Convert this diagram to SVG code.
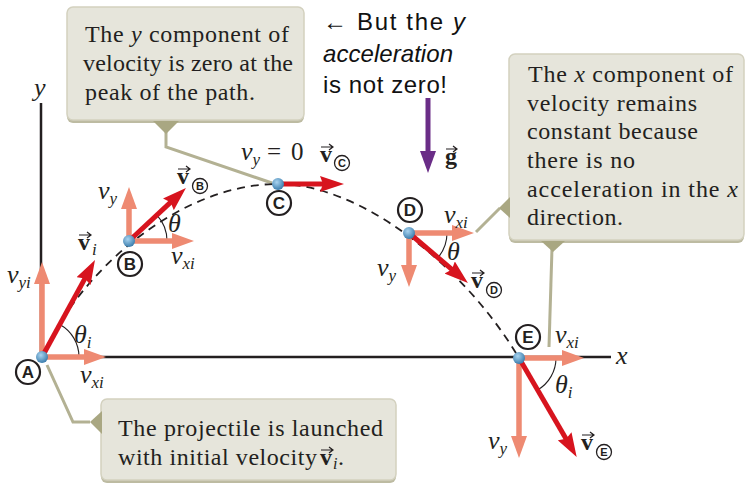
<svg xmlns="http://www.w3.org/2000/svg" width="746" height="485" viewBox="0 0 746 485">
<defs>
<style>
.box{fill:#e6e5db;stroke:#d3d1bf;stroke-width:1.5}
.shadow{fill:#bdbba2}
.ptr{fill:#a9a782}
.lead{fill:none;stroke:#b3b193;stroke-width:3}
.bt{font-family:"Liberation Serif",serif;font-size:24px;fill:#231f20}
.it{font-style:italic}
.sans{font-family:"Liberation Sans",sans-serif;font-size:24px;fill:#111}
.vel{stroke:#d7141e;stroke-width:5;fill:none}
.cmp{stroke:#ee8a72;stroke-width:5.5;fill:none}
.axis{stroke:#231f20;stroke-width:2.5;fill:none}
.traj{fill:none;stroke:#231f20;stroke-width:1.8;stroke-dasharray:8 6}
.arc{fill:none;stroke:#231f20;stroke-width:1.1}
.m{font-family:"Liberation Serif",serif;font-style:italic;font-size:26px;fill:#231f20}
.up{font-family:"Liberation Serif",serif;font-size:25px;fill:#231f20}
.sub{font-size:17px}
.bv{font-family:"Liberation Serif",serif;font-weight:bold;font-size:24px;fill:#231f20}
.acc{fill:none;stroke:#231f20;stroke-width:1.2}
.circ{fill:#fff;stroke:#231f20;stroke-width:2.2}
.csub{fill:none;stroke:#231f20;stroke-width:1.3}
.cl{font-family:"Liberation Sans",sans-serif;font-weight:bold;font-size:17px;text-anchor:middle;fill:#231f20}
.cls{font-family:"Liberation Sans",sans-serif;font-weight:bold;font-size:11px;text-anchor:middle;fill:#231f20}
.ball{fill:url(#bg)}
</style>
<radialGradient id="bg" cx="0.4" cy="0.35" r="0.7">
<stop offset="0" stop-color="#a9d4f0"/>
<stop offset="1" stop-color="#3377a8"/>
</radialGradient>
<marker id="hr" markerUnits="userSpaceOnUse" markerWidth="24" markerHeight="16" viewBox="0 0 24 16" refX="4" refY="8" orient="auto"><path d="M0,0 L24,8 L0,16 L3,8 z" fill="#d7141e"/></marker>
<marker id="hs" markerUnits="userSpaceOnUse" markerWidth="22" markerHeight="16" viewBox="0 0 22 16" refX="2" refY="8" orient="auto"><path d="M0,0 L22,8 L0,16 z" fill="#ee8a72"/></marker>
<marker id="hp" markerUnits="userSpaceOnUse" markerWidth="22" markerHeight="16" viewBox="0 0 22 16" refX="2" refY="8" orient="auto"><path d="M0,0 L22,8 L0,16 z" fill="#6a2d87"/></marker>
</defs>

<g id="connectors">
<path class="lead" d="M166,130 V147 L272,183"/>
<path class="lead" d="M500,208 L476,232"/>
<path class="lead" d="M552,248 L549,347"/>
<path class="lead" d="M90,422 H73 L47,365"/>
</g>

<g id="box-y">
<rect class="shadow" x="67" y="10" width="237" height="113" rx="6"/>
<rect class="box" x="67" y="7" width="237" height="113" rx="6"/>
<polygon class="ptr" points="153,121 179,121 166,134"/>
<text class="bt" x="85" y="42" textLength="204" lengthAdjust="spacing">The <tspan class="it">y</tspan> component of</text>
<text class="bt" x="83" y="71" textLength="210" lengthAdjust="spacing">velocity is zero at the</text>
<text class="bt" x="85" y="100" textLength="170" lengthAdjust="spacing">peak of the path.</text>
</g>

<g id="box-x">
<rect class="shadow" x="509" y="57" width="235" height="186" rx="6"/>
<rect class="box" x="509" y="54" width="235" height="186" rx="6"/>
<polygon class="ptr" points="510,197 510,218 499,208"/>
<polygon class="ptr" points="541,241 565,241 553,252"/>
<text class="bt" x="528" y="82" textLength="205" lengthAdjust="spacing">The <tspan class="it">x</tspan> component of</text>
<text class="bt" x="527" y="110.7" textLength="170" lengthAdjust="spacing">velocity remains</text>
<text class="bt" x="527" y="139.4" textLength="171" lengthAdjust="spacing">constant because</text>
<text class="bt" x="527" y="168" textLength="108" lengthAdjust="spacing">there is no</text>
<text class="bt" x="527" y="196.7" textLength="211" lengthAdjust="spacing">acceleration in the <tspan class="it">x</tspan></text>
<text class="bt" x="527" y="225.4" textLength="96" lengthAdjust="spacing">direction.</text>
</g>

<g id="box-launch">
<rect class="shadow" x="101" y="402" width="295" height="81" rx="6"/>
<rect class="box" x="101" y="399" width="295" height="81" rx="6"/>
<polygon class="ptr" points="102,411 102,434 90,422"/>
<text class="bt" x="118" y="436" textLength="265" lengthAdjust="spacing">The projectile is launched</text>
<text class="bt" x="118" y="465" textLength="199" lengthAdjust="spacing">with initial velocity</text>
<text class="bv" x="320" y="465">v</text>
<path class="acc" d="M321,450 h12 m-4,-3 l4,3 l-4,3"/>
<text class="bt it" x="333" y="469" style="font-size:16px">i</text>
<text class="bt" x="338" y="465">.</text>
</g>

<g id="note-accel">
<text class="sans" x="323" y="30" textLength="142" lengthAdjust="spacing">← But the <tspan class="it">y</tspan></text>
<text class="sans it" x="323" y="62" textLength="130" lengthAdjust="spacing">acceleration</text>
<text class="sans" x="323" y="93" textLength="124" lengthAdjust="spacing">is not zero!</text>
</g>

<g id="axes">
<path class="axis" d="M41,103 V357 H611"/>
<text class="m" x="34" y="96">y</text>
<text class="m" x="616" y="364">x</text>
</g>

<path id="trajectory" class="traj" d="M42,357 C80,270 180,184 278,184 C360,184 463,264 519,358"/>

<g id="angles">
<path class="arc" d="M79,357 A37,37 0 0 0 59.8,324.5"/>
<path class="arc" d="M167,241 A38,38 0 0 0 156.9,215.1"/>
<path class="arc" d="M447,233 A38,38 0 0 1 438,257.6"/>
<path class="arc" d="M556,358 A37,37 0 0 1 537.7,389.9"/>
</g>

<g id="gravity">
<path d="M428,98 V153" stroke="#6a2d87" stroke-width="5" fill="none" marker-end="url(#hp)"/>
<text class="bv" x="445" y="164">g</text>
<path class="acc" d="M446,149 h11 m-4,-3 l4,3 l-4,3"/>
</g>

<g id="pt-A">
<path class="cmp" d="M42,357 V282" marker-end="url(#hs)"/>
<path class="cmp" d="M42,357 H86" marker-end="url(#hs)"/>
<path class="vel" d="M42,357 L85.4,277.6" marker-end="url(#hr)"/>
<circle class="ball" cx="42" cy="357" r="6"/>
<circle class="circ" cx="28" cy="372" r="12"/>
<text class="cl" x="28" y="378">A</text>
<text class="m" x="7" y="283">v<tspan class="sub" dy="5">yi</tspan></text>
<text class="m" x="80" y="383">v<tspan class="sub" dy="5">xi</tspan></text>
<text class="m" x="74" y="343">θ<tspan class="sub" dy="5">i</tspan></text>
<text class="bv" x="78" y="250">v</text>
<path class="acc" d="M79,235 h12 m-4,-3 l4,3 l-4,3"/>
<text class="m sub" x="92" y="255">i</text>
</g>

<g id="pt-B">
<path class="cmp" d="M129,241 V207" marker-end="url(#hs)"/>
<path class="cmp" d="M129,241 H174" marker-end="url(#hs)"/>
<path class="vel" d="M129,241 L171.3,201.6" marker-end="url(#hr)"/>
<circle class="ball" cx="129" cy="241" r="6"/>
<circle class="circ" cx="130" cy="264" r="12"/>
<text class="cl" x="130" y="270">B</text>
<text class="m" x="98" y="199">v<tspan class="sub" dy="5">y</tspan></text>
<text class="m" x="171" y="264">v<tspan class="sub" dy="5">xi</tspan></text>
<text class="m" x="168" y="232">θ</text>
<text class="bv" x="177" y="184">v</text>
<path class="acc" d="M178,169 h12 m-4,-3 l4,3 l-4,3"/>
<circle class="csub" cx="200" cy="186" r="7.5"/>
<text class="cls" x="200" y="190">B</text>
</g>

<g id="pt-C">
<path class="vel" d="M278,184 L324,184" marker-end="url(#hr)"/>
<circle class="ball" cx="278" cy="184" r="6"/>
<circle class="circ" cx="279" cy="203" r="12"/>
<text class="cl" x="279" y="209">C</text>
<text class="m" x="241" y="160">v<tspan class="sub" dy="5">y</tspan></text>
<text class="up" x="267" y="160">=</text>
<text class="up" x="291" y="160">0</text>
<text class="bv" x="320" y="162">v</text>
<path class="acc" d="M321,147 h12 m-4,-3 l4,3 l-4,3"/>
<circle class="csub" cx="342" cy="163" r="7.5"/>
<text class="cls" x="342" y="167">C</text>
</g>

<g id="pt-D">
<path class="cmp" d="M409,233 H454" marker-end="url(#hs)"/>
<path class="cmp" d="M409,233 V267" marker-end="url(#hs)"/>
<path class="vel" d="M409,233 L452.7,270.1" marker-end="url(#hr)"/>
<circle class="ball" cx="409" cy="233" r="6"/>
<circle class="circ" cx="410" cy="210" r="12"/>
<text class="cl" x="410" y="216">D</text>
<text class="m" x="444" y="223">v<tspan class="sub" dy="5">xi</tspan></text>
<text class="m" x="447" y="260">θ</text>
<text class="m" x="377" y="276">v<tspan class="sub" dy="5">y</tspan></text>
<text class="bv" x="471" y="288">v</text>
<path class="acc" d="M472,273 h12 m-4,-3 l4,3 l-4,3"/>
<circle class="csub" cx="494" cy="290" r="7.5"/>
<text class="cls" x="494" y="294">D</text>
</g>

<g id="pt-E">
<path class="cmp" d="M519,358 H564" marker-end="url(#hs)"/>
<path class="cmp" d="M519,358 V438" marker-end="url(#hs)"/>
<path class="vel" d="M519,358 L566.6,439.7" marker-end="url(#hr)"/>
<circle class="ball" cx="519" cy="358" r="6"/>
<circle class="circ" cx="528" cy="337" r="12"/>
<text class="cl" x="528" y="343">E</text>
<text class="m" x="555" y="343">v<tspan class="sub" dy="5">xi</tspan></text>
<text class="m" x="555" y="393">θ<tspan class="sub" dy="5">i</tspan></text>
<text class="m" x="488" y="449">v<tspan class="sub" dy="5">y</tspan></text>
<text class="bv" x="581" y="450">v</text>
<path class="acc" d="M582,435 h12 m-4,-3 l4,3 l-4,3"/>
<circle class="csub" cx="604" cy="452" r="7.5"/>
<text class="cls" x="604" y="456">E</text>
</g>
</svg>
